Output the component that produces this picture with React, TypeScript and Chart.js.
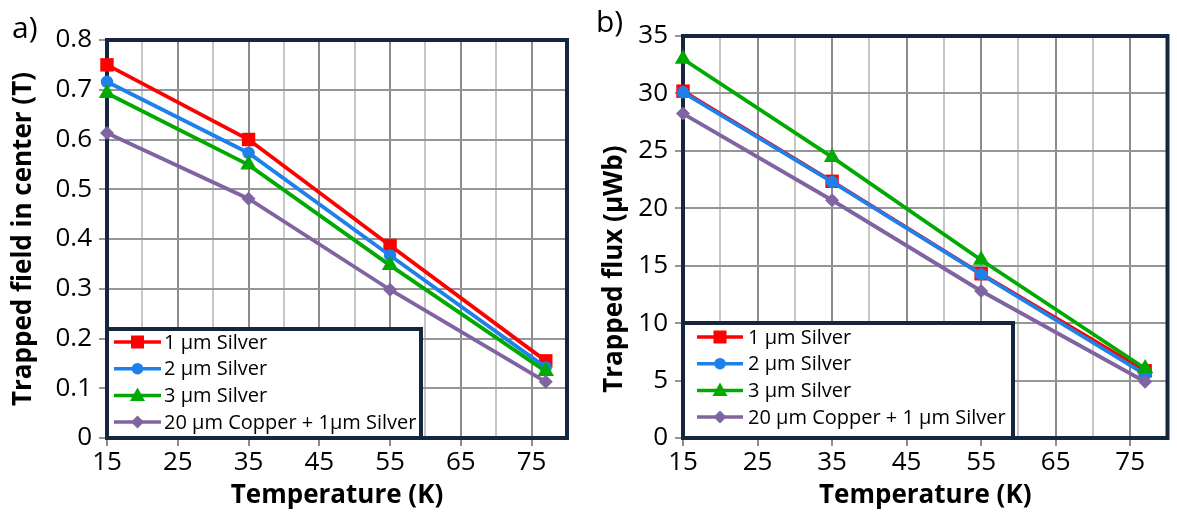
import React, { useEffect, useRef } from 'react';
import { Chart, registerables } from 'chart.js';

Chart.register(...registerables);

// ---------- data ----------
const temperatures = [15, 35, 55, 77];
const majorXTicks = [15, 25, 35, 45, 55, 65, 75];

const namesA = ['1 µm Silver', '2 µm Silver', '3 µm Silver', '20 µm Copper + 1µm Silver'];
const namesB = ['1 µm Silver', '2 µm Silver', '3 µm Silver', '20 µm Copper + 1 µm Silver'];

// a) trapped field in center (T)
const fieldSilver1 = [0.75, 0.6, 0.387, 0.155];
const fieldSilver2 = [0.716, 0.573, 0.367, 0.142];
const fieldSilver3 = [0.693, 0.549, 0.347, 0.134];
const fieldCopper = [0.613, 0.481, 0.298, 0.113];

// b) trapped flux (µWb)
const fluxSilver1 = [30.2, 22.35, 14.3, 5.85];
const fluxSilver2 = [30.1, 22.3, 14.25, 5.55];
const fluxSilver3 = [33.0, 24.45, 15.5, 6.05];
const fluxCopper = [28.25, 20.7, 12.8, 4.9];

// ---------- styles ----------
const COLORS = ['#ff0000', '#1f80ea', '#00aa00', '#8064a2'];
const SHAPES = ['square', 'circle', 'triangle', 'diamond'];
const NAVY = '#15263f';
const FONT = "'Open Sans', sans-serif";

function drawMarker(ctx: CanvasRenderingContext2D, shape: string, x: number, y: number, color: string) {
  ctx.save();
  ctx.fillStyle = color;
  ctx.beginPath();
  if (shape === 'square') {
    ctx.rect(x - 6.5, y - 6.5, 13, 13);
  } else if (shape === 'circle') {
    ctx.arc(x, y, 5.8, 0, Math.PI * 2);
  } else if (shape === 'triangle') {
    ctx.moveTo(x, y - 8);
    ctx.lineTo(x + 7.5, y + 5.5);
    ctx.lineTo(x - 7.5, y + 5.5);
    ctx.closePath();
  } else {
    ctx.moveTo(x, y - 6.5);
    ctx.lineTo(x + 6.5, y);
    ctx.lineTo(x, y + 6.5);
    ctx.lineTo(x - 6.5, y);
    ctx.closePath();
  }
  ctx.fill();
  ctx.restore();
}

type PanelCfg = {
  label: string;
  labelX: number;
  labelY: number;
  yTitle: string;
  yTitleX: number;
  yTitleYFrac: number;
  names: string[];
  legendW: number;
  legendH: number;
  legendRow0: number;
  legendLine0: number;
  legendLine1: number;
  legendText: number;
};

function makePlugin(cfg: PanelCfg) {
  return {
    id: 'panelDecor',
    beforeDatasetsDraw(chart: any) {
      const { ctx, chartArea: a } = chart;
      ctx.save();
      ctx.strokeStyle = NAVY;
      ctx.lineWidth = 4;
      ctx.strokeRect(a.left, a.top, a.right - a.left, a.bottom - a.top);
      ctx.restore();
    },
    afterDraw(chart: any) {
      const { ctx, chartArea: a } = chart;
      ctx.save();
      // panel label
      ctx.fillStyle = '#000';
      ctx.font = `30px ${FONT}`;
      ctx.textAlign = 'left';
      ctx.textBaseline = 'alphabetic';
      ctx.fillText(cfg.label, cfg.labelX, cfg.labelY);
      // axis titles
      ctx.font = `bold 26px ${FONT}`;
      ctx.textAlign = 'center';
      ctx.textBaseline = 'middle';
      ctx.fillText('Temperature (K)', (a.left + a.right) / 2, 496);
      ctx.save();
      ctx.translate(cfg.yTitleX, a.top + (a.bottom - a.top) * cfg.yTitleYFrac);
      ctx.rotate(-Math.PI / 2);
      ctx.fillText(cfg.yTitle, 0, 0);
      ctx.restore();
      // legend
      const lx = a.left;
      const ly = a.bottom - cfg.legendH;
      ctx.fillStyle = '#fff';
      ctx.fillRect(lx, ly, cfg.legendW, cfg.legendH);
      ctx.strokeStyle = NAVY;
      ctx.lineWidth = 4;
      ctx.strokeRect(lx, ly, cfg.legendW, cfg.legendH);
      ctx.font = `20px ${FONT}`;
      ctx.textAlign = 'left';
      ctx.textBaseline = 'middle';
      cfg.names.forEach((name, i) => {
        const y = ly + cfg.legendRow0 + i * 26.7;
        ctx.strokeStyle = COLORS[i];
        ctx.lineWidth = 3.5;
        ctx.beginPath();
        ctx.moveTo(lx + cfg.legendLine0, y);
        ctx.lineTo(lx + cfg.legendLine1, y);
        ctx.stroke();
        drawMarker(ctx, SHAPES[i], lx + (cfg.legendLine0 + cfg.legendLine1) / 2, y, COLORS[i]);
        ctx.fillStyle = '#000';
        ctx.fillText(name, lx + cfg.legendText, y + 1);
      });
      ctx.restore();
    },
  };
}

function makeScales(yMax: number, yStep: number, yWidth: number, fmt: (v: number) => string) {
  const isMajor = (v: number) => majorXTicks.includes(Math.round(v));
  return {
    x: {
      type: 'linear',
      min: 15,
      max: 80,
      afterFit: (s: any) => {
        s.height = 74;
      },
      ticks: {
        stepSize: 5,
        autoSkip: false,
        maxRotation: 0,
        padding: 1,
        color: '#000',
        font: { size: 26, family: FONT },
        callback: (v: number) => (isMajor(v) ? String(v) : ''),
      },
      grid: {
        lineWidth: 2,
        tickLength: 8,
        color: (c: any) => (c.tick && isMajor(c.tick.value) ? '#8c8c8c' : '#c6c6c6'),
        tickColor: (c: any) => (c.tick && isMajor(c.tick.value) ? '#8c8c8c' : 'rgba(0,0,0,0)'),
      },
      border: { display: false },
    },
    y: {
      type: 'linear',
      min: 0,
      max: yMax,
      afterFit: (s: any) => {
        s.width = yWidth;
      },
      ticks: {
        stepSize: yStep,
        padding: 7,
        color: '#000',
        font: { size: 26, family: FONT },
        callback: (v: number) => fmt(v),
      },
      grid: {
        lineWidth: 2,
        tickLength: 8,
        color: '#969696',
        tickColor: '#969696',
      },
      border: { display: false },
    },
  };
}

function makeDatasets(series: number[][]) {
  const radii = [9.5, 6.2, 9.5, 7];
  const styles = ['rect', 'circle', 'triangle', 'rectRot'];
  return series.map((vals, i) => ({
    label: namesA[i],
    data: temperatures.map((t, j) => ({ x: t, y: vals[j] })),
    borderColor: COLORS[i],
    backgroundColor: COLORS[i],
    borderWidth: 3.8,
    pointStyle: styles[i],
    pointRadius: radii[i],
    pointBorderWidth: 0,
    pointBackgroundColor: COLORS[i],
    order: 4 - i,
    tension: 0,
    clip: false,
  }));
}

function Panel(props: { width: number; left: number; build: () => any }) {
  const ref = useRef<HTMLCanvasElement | null>(null);
  useEffect(() => {
    if (!ref.current) return;
    const chart = new Chart(ref.current, props.build());
    return () => chart.destroy();
  }, []);
  return (
    <canvas
      ref={ref}
      width={props.width}
      height={512}
      style={{ position: 'absolute', left: props.left, top: 0, width: props.width, height: 512 }}
    />
  );
}

function buildA() {
  return {
    type: 'line',
    data: { datasets: makeDatasets([fieldSilver1, fieldSilver2, fieldSilver3, fieldCopper]) },
    options: {
      responsive: false,
      animation: false,
      layout: { padding: { left: 0, right: 13, top: 40, bottom: 0 } },
      plugins: { legend: { display: false }, tooltip: { enabled: false } },
      scales: makeScales(0.8, 0.1, 107, (v) => (Math.abs(v) < 1e-9 ? '0' : v.toFixed(1))),
    },
    plugins: [
      makePlugin({
        label: 'a)',
        labelX: 12,
        labelY: 38,
        yTitle: 'Trapped field in center (T)',
        yTitleX: 24,
        yTitleYFrac: 0.5,
        names: namesA,
        legendW: 314,
        legendH: 109,
        legendRow0: 13,
        legendLine0: 7,
        legendLine1: 54,
        legendText: 57,
      }),
    ],
  };
}

function buildB() {
  return {
    type: 'line',
    data: { datasets: makeDatasets([fluxSilver1, fluxSilver2, fluxSilver3, fluxCopper]) },
    options: {
      responsive: false,
      animation: false,
      layout: { padding: { left: 0, right: 2, top: 36, bottom: 0 } },
      plugins: { legend: { display: false }, tooltip: { enabled: false } },
      scales: makeScales(35, 5, 95, (v) => String(Math.round(v))),
    },
    plugins: [
      makePlugin({
        label: 'b)',
        labelX: 8,
        labelY: 32,
        yTitle: 'Trapped flux (µWb)',
        yTitleX: 27,
        yTitleYFrac: 0.58,
        names: namesB,
        legendW: 330,
        legendH: 115,
        legendRow0: 14,
        legendLine0: 14,
        legendLine1: 60,
        legendText: 65,
      }),
    ],
  };
}

export default function App() {
  return (
    <div style={{ position: 'fixed', left: 0, top: 0, width: 1177, height: 512, background: '#fff' }}>
      <Panel width={580} left={0} build={buildA} />
      <Panel width={589} left={588} build={buildB} />
    </div>
  );
}
